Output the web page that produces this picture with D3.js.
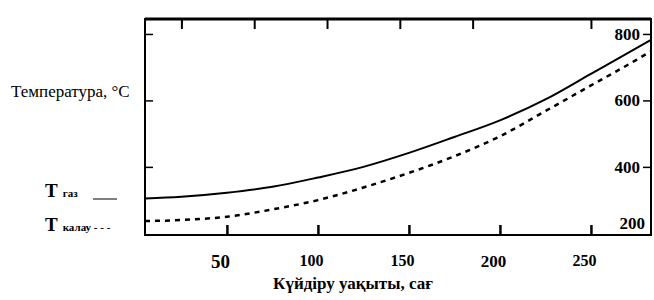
<!DOCTYPE html>
<html>
<head>
<meta charset="utf-8">
<script src="https://cdn.jsdelivr.net/npm/d3@7"></script>
<style>
  html, body { margin: 0; padding: 0; background: #fff; }
  svg { display: block; }
</style>
</head>
<body>
<svg id="chart" width="654" height="300"></svg>
<script>
// ---- data ----
const hours = [5, 25, 50, 75, 100, 125, 150, 175, 200, 225, 250, 275, 283];
const tGas = [305, 310, 322, 340, 368, 400, 442, 490, 540, 603, 680, 757, 782];
const tKalau = [237, 240, 250, 272, 300, 338, 382, 432, 492, 568, 645, 722, 748];
const xTickValues = [50, 100, 150, 200, 250];
const xTopTicks = [25, 65, 105, 145, 185, 250];
const yTickValues = [200, 400, 600, 800];
const yLeftTicks = [400, 600, 800];
const yAxisTitle = "Температура, °C";
const xAxisTitle = "Күйдіру уақыты, сағ";
const legendGas = "газ";
const legendKalau = "калау";

// ---- layout ----
const L = 145, R = 651, T = 19, B = 235;
const svg = d3.select("#chart");
const x = d3.scaleLinear().domain([5, 283]).range([L, R]);
const y = d3.scaleLinear().domain([195, 845]).range([B, T]);

const serif = "'Liberation Serif', 'Times New Roman', serif";

// frame
svg.append("rect").attr("x", L).attr("y", T).attr("width", R - L).attr("height", B - T)
  .attr("fill", "none").attr("stroke", "#000").attr("stroke-width", 2);
svg.append("line").attr("x1", L).attr("x2", R).attr("y1", T).attr("y2", T)
  .attr("stroke", "#000").attr("stroke-width", 3);

// bottom axis (ticks inward)
const gB = svg.append("g").attr("transform", `translate(0,${B})`)
  .call(d3.axisBottom(x).tickValues(xTickValues).tickSizeInner(-10).tickSizeOuter(0).tickPadding(20));
gB.select(".domain").remove();
gB.selectAll(".tick line").attr("stroke", "#000").attr("stroke-width", 2.5);
gB.selectAll(".tick text").attr("font-family", serif).attr("font-weight", "bold")
  .attr("font-size", (d) => d === 50 ? 19 : (d === 200 ? 17 : 16))
  .attr("fill", "#000").attr("dx", -7);

// top axis (ticks inward)
const gT = svg.append("g").attr("transform", `translate(0,${T})`)
  .call(d3.axisTop(x).tickValues(xTopTicks).tickSizeInner(-10).tickSizeOuter(0).tickFormat(""));
gT.select(".domain").remove();
gT.selectAll(".tick line").attr("stroke", "#000").attr("stroke-width", 2);

// left axis (ticks inward)
const gL = svg.append("g").attr("transform", `translate(${L},0)`)
  .call(d3.axisLeft(y).tickValues(yLeftTicks).tickSizeInner(-8).tickSizeOuter(0).tickFormat(""));
gL.select(".domain").remove();
gL.selectAll(".tick line").attr("stroke", "#000").attr("stroke-width", 1.5);

// right axis (ticks inward, labels inside)
const gR = svg.append("g").attr("transform", `translate(${R},0)`)
  .call(d3.axisRight(y).tickValues(yTickValues).tickSizeInner(-8).tickSizeOuter(0));
gR.select(".domain").remove();
gR.selectAll(".tick line").attr("stroke", "#000").attr("stroke-width", 1.5)
  .attr("opacity", (d) => d === 200 ? 0 : 1);
gR.selectAll(".tick text").attr("font-family", serif).attr("font-weight", "bold")
  .attr("font-size", 17).attr("fill", "#000").attr("text-anchor", "end")
  .attr("x", (d) => d === 200 ? -6 : -11)
  .attr("dy", (d) => d === 200 ? "-0.3em" : "0.32em");

// lines
const line = (vals) => d3.line().x((d, i) => x(hours[i])).y((d) => y(d)).curve(d3.curveMonotoneX)(vals);
svg.append("clipPath").attr("id", "clip").append("rect")
  .attr("x", L).attr("y", T).attr("width", R - L).attr("height", B - T);
svg.append("path").attr("d", line(tGas)).attr("fill", "none").attr("stroke", "#000")
  .attr("stroke-width", 2).attr("clip-path", "url(#clip)");
svg.append("path").attr("d", line(tKalau)).attr("fill", "none").attr("stroke", "#000")
  .attr("stroke-width", 2.5).attr("stroke-dasharray", "5,5").attr("clip-path", "url(#clip)");

// y axis title
svg.append("text").attr("x", 11).attr("y", 97).attr("font-family", serif)
  .attr("font-size", 17).attr("fill", "#000").text(yAxisTitle);

// x axis title
svg.append("text").attr("x", 353).attr("y", 289).attr("text-anchor", "middle")
  .attr("font-family", serif).attr("font-weight", "bold").attr("font-size", 17)
  .attr("fill", "#000").text(xAxisTitle);

// legend
const lg1 = svg.append("text").attr("x", 45).attr("y", 197).attr("font-family", serif)
  .attr("font-weight", "bold").attr("fill", "#000");
lg1.append("tspan").attr("font-size", 19).text("T");
lg1.append("tspan").attr("font-size", 11).attr("dx", 5).text(legendGas);
svg.append("line").attr("x1", 93).attr("x2", 117).attr("y1", 199).attr("y2", 199)
  .attr("stroke", "#000").attr("stroke-width", 1);

const lg2 = svg.append("text").attr("x", 45).attr("y", 231).attr("font-family", serif)
  .attr("font-weight", "bold").attr("fill", "#000");
lg2.append("tspan").attr("font-size", 19).text("T");
lg2.append("tspan").attr("font-size", 11).attr("dx", 5).text(legendKalau + " - - -");
</script>
</body>
</html>
